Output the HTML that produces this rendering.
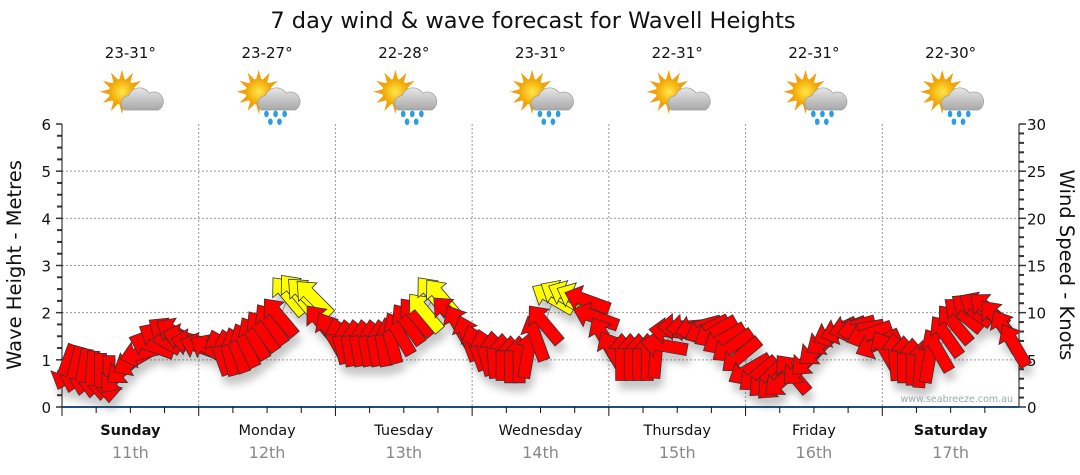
<!DOCTYPE html>
<html><head><meta charset="utf-8"><style>
body{margin:0;background:#fff;width:1080px;height:475px;overflow:hidden;font-family:"DejaVu Sans",sans-serif}
svg{display:block}
</style></head><body>
<svg id="chart" width="1080" height="475" viewBox="0 0 1080 475" xmlns="http://www.w3.org/2000/svg" font-family="DejaVu Sans, sans-serif">
<defs>
<filter id="sh" x="-50%" y="-50%" width="200%" height="200%"><feGaussianBlur stdDeviation="4"/></filter>
<radialGradient id="sun" cx="50%" cy="50%" r="50%"><stop offset="0" stop-color="#ffe84a"/><stop offset="1" stop-color="#f2a400"/></radialGradient>
<linearGradient id="cloud" x1="0" y1="0" x2="0" y2="1"><stop offset="0" stop-color="#e6e6e6"/><stop offset="1" stop-color="#a8a8a8"/></linearGradient>
</defs>
<text x="533" y="28" font-size="22.5" text-anchor="middle" fill="#111">7 day wind &amp; wave forecast for Wavell Heights</text>
<g id="grid"></g>
<g id="axes"></g>
<g id="icons"></g>
<polyline id="connector" fill="none" stroke="#999" stroke-width="1"/>
<g id="shadows" filter="url(#sh)" opacity="0.3"></g>
<g id="arrows"></g>
<text x="1013" y="402" font-size="9.5" text-anchor="end" fill="#9aa">www.seabreeze.com.au</text>
<text transform="translate(21,265) rotate(-90)" font-size="19.5" text-anchor="middle" fill="#111">Wave Height - Metres</text>
<text transform="translate(1060,265) rotate(90)" font-size="19.5" text-anchor="middle" fill="#111">Wind Speed - Knots</text>
</svg>
<script>
const days=["Sunday","Monday","Tuesday","Wednesday","Thursday","Friday","Saturday"];
const dates=["11th","12th","13th","14th","15th","16th","17th"];
const temps=["23-31°","23-27°","22-28°","23-31°","22-31°","22-31°","22-30°"];
const rainy=[0,1,1,1,0,1,1];
const boldDays=[1,0,0,0,0,0,1];
const leftTicks=[0,1,2,3,4,5,6];
const rightTicks=[0,5,10,15,20,25,30];
const heights=[
.85,.8,.75,.7,.65,.6,.7,.85,1.0,1.15,1.3,1.45,1.55,1.55,1.45,1.35,
1.25,1.2,1.15,1.15,1.2,1.3,1.45,1.6,1.75,1.9,2.35,2.4,2.35,2.3,1.75,1.55,
1.4,1.35,1.35,1.35,1.35,1.35,1.4,1.55,1.75,1.9,2.0,2.35,2.3,1.95,1.7,1.45,
1.25,1.15,1.1,1.05,1.0,1.0,1.1,1.45,1.75,2.3,2.35,2.35,2.3,2.25,1.9,1.45,
1.15,1.05,1.05,1.05,1.05,1.1,1.3,1.6,1.7,1.7,1.7,1.65,1.6,1.45,1.3,1.1,
.8,.7,.6,.55,.6,.7,.85,1.05,1.25,1.45,1.6,1.65,1.7,1.65,1.55,1.35,
1.15,1.05,1.0,.95,.9,1.0,1.2,1.5,1.75,1.95,2.05,2.1,2.05,1.85,1.6,1.3];
const dirs=[
200,195,190,185,180,180,220,230,240,255,290,300,305,300,285,280,
290,300,340,345,340,335,330,325,325,320,320,320,315,315,320,330,
345,350,350,350,350,350,345,330,325,320,320,320,320,315,330,340,
340,345,355,0,0,0,10,340,320,300,300,295,295,290,290,330,
330,0,0,0,0,5,280,275,270,265,255,245,240,240,235,230,
240,230,225,225,230,320,225,225,230,235,245,250,255,260,250,245,
330,355,0,0,5,10,330,325,320,310,305,300,310,320,330,330];
const speeds=[
6,6,6,6,6,6,7,7,8,8,9,9,9,9,8,8,
7,7,8,8,8,9,9,10,10,11,13,13,13,13,11,10,
8,8,8,8,8,8,9,10,11,11,12,13,13,11,10,9,
8,8,8,8,8,8,9,10,11,13,13,13,13,11,10,9,
8,8,8,8,8,8,9,9,9,9,9,9,9,9,8,8,
7,7,7,7,7,7,7,8,8,9,9,9,9,9,9,8,
8,8,8,8,8,8,9,10,10,11,11,11,11,10,10,9];
const X0=62,X1=1019,Y0=407,Y1=124,NS="http://www.w3.org/2000/svg";
const dayW=(X1-X0)/7, perDay=16;
const yM=v=>Y0-(v/6)*(Y0-Y1);
const yK=v=>Y0-(v/30)*(Y0-Y1);
const xT=i=>X0+(i+0.5)*dayW/perDay;
function mk(tag,attrs,parent){const e=document.createElementNS(NS,tag);for(const k in attrs)e.setAttribute(k,attrs[k]);parent.appendChild(e);return e;}
const grid=document.getElementById('grid'),axes=document.getElementById('axes'),icons=document.getElementById('icons');
leftTicks.forEach(t=>{if(t>0&&t<6){const l=mk('line',{x1:X0,x2:X1,y1:yM(t),y2:yM(t),stroke:'#999','stroke-dasharray':'2,2'},grid);

}
const tx=mk('text',{x:51,y:yM(t)+6,'font-size':15,'text-anchor':'end',fill:'#111'},axes);tx.textContent=t;

});
for(let v=0;v<=6;v+=0.25){mk('line',{x1:v%1==0?56:57,x2:X0,y1:yM(v),y2:yM(v),stroke:'#333','stroke-width':v%1==0?1.5:2},axes);}
rightTicks.forEach(t=>{const tx=mk('text',{x:1027,y:yK(t)+6,'font-size':15,fill:'#111'},axes);tx.textContent=t;

});
for(let v=0;v<=30;v+=1){mk('line',{x1:X1,x2:v%5==0?1026:1024,y1:yK(v),y2:yK(v),stroke:'#333','stroke-width':v%5==0?1.5:2},axes);}
mk('line',{x1:X0,x2:X0,y1:Y1,y2:Y0,stroke:'#111'},axes);
mk('line',{x1:X1,x2:X1,y1:Y1,y2:Y0,stroke:'#111'},axes);
mk('line',{x1:X0,x2:X1,y1:Y0,y2:Y0,stroke:'#1d4f7a','stroke-width':2},axes);
for(let d=0;d<7;d++){
 const xs=X0+d*dayW,cx=xs+dayW/2;
 if(d>0){const g=mk('line',{x1:xs,x2:xs,y1:Y1,y2:Y0,stroke:'#999','stroke-dasharray':'2,2'},grid);
 
 }
 for(let q=0;q<4;q++){mk('line',{x1:xs+q*dayW/4,x2:xs+q*dayW/4,y1:Y0,y2:Y0+(q==0?9:6),stroke:'#111'},axes);}
 const dn=mk('text',{x:cx,y:435,'font-size':14.5,'text-anchor':'middle',fill:'#111','font-weight':boldDays[d]?'bold':'normal'},axes);dn.textContent=days[d];
 
 
 const dt=mk('text',{x:cx,y:458,'font-size':16,'text-anchor':'middle',fill:'#888'},axes);dt.textContent=dates[d];
 
 
 const tp=mk('text',{x:cx,y:58,'font-size':15,'text-anchor':'middle',fill:'#111'},icons);tp.textContent=temps[d];
 
 
 const g=mk('g',{transform:`translate(${cx+2},97) scale(1.3)`},icons);
 
 
 for(let r=0;r<12;r++){const a=r*30*Math.PI/180;mk('polygon',{points:`${-8+Math.cos(a)*17},${-4+Math.sin(a)*17} ${-8+Math.cos(a+0.25)*9},${-4+Math.sin(a+0.25)*9} ${-8+Math.cos(a-0.25)*9},${-4+Math.sin(a-0.25)*9}`,fill:'#f0a010'},g);}
 mk('circle',{cx:-8,cy:-4,r:10,fill:'url(#sun)'},g);
 mk('path',{d:'M-6,10 a6,6 0 0 1 3,-11 a9,9 0 0 1 16,-2 a7,7 0 0 1 7,13 z',fill:'url(#cloud)',stroke:'#999','stroke-width':0.5},g);
 if(rainy[d]){[[-2,13],[5,13],[12,13],[1,19],[8,19]].forEach(p=>mk('ellipse',{cx:p[0],cy:p[1],rx:1.8,ry:2.5,fill:'#2a9ee0'},g));}
}
const arrows=document.getElementById('arrows'),shadows=document.getElementById('shadows');
const shape='M0,-24 L13,-9 L6,-9 L6,23 L-6,23 L-6,-9 L-13,-9 Z';
let pts=[];
heights.forEach((h,i)=>{
 const x=xT(i),y=yM(h);pts.push(x+','+y);
 const s=mk('path',{d:shape,transform:`translate(${x+3},${y+9}) rotate(${dirs[i]})`,fill:'#444'},shadows);
 
 
 const a=mk('path',{d:shape,transform:`translate(${x},${y}) rotate(${dirs[i]})`,fill:speeds[i]>=12?'#ffff00':'#ff0000',stroke:'#333','stroke-width':0.8},arrows);
 
 
});
document.getElementById('connector').setAttribute('points',pts.join(' '));
</script>
</body></html>
